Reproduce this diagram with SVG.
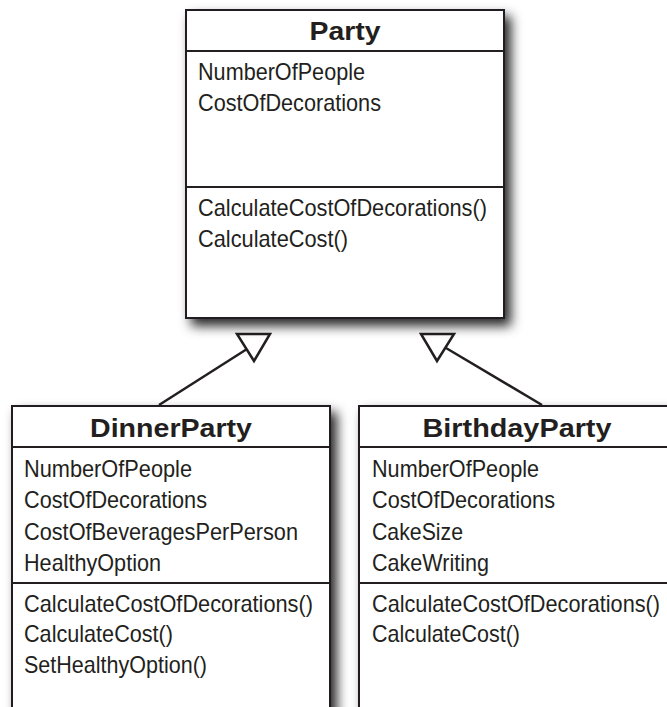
<svg xmlns="http://www.w3.org/2000/svg" width="667" height="707" viewBox="0 0 667 707">
  <defs>
    <filter id="shadow" x="-15%" y="-15%" width="140%" height="140%">
      <feDropShadow dx="6" dy="7" stdDeviation="6" flood-color="#000" flood-opacity="0.85"/>
    </filter>
  </defs>
  <style>
    .box { fill: #fff; stroke: #231f20; stroke-width: 2; }
    .sep { stroke: #231f20; stroke-width: 2; fill: none; }
    .title { font-family: "Liberation Sans", Arial, sans-serif; font-weight: bold; font-size: 26px; fill: #231f20; text-anchor: middle; }
    .item { font-family: "Liberation Sans", Arial, sans-serif; font-size: 24px; fill: #231f20; }
    .conn { stroke: #231f20; stroke-width: 2.5; fill: none; }
    .head { stroke: #231f20; stroke-width: 2.5; fill: #fff; stroke-linejoin: miter; }
  </style>
  <rect width="667" height="707" fill="#fff"/>

  <g id="connectors">
    <line class="conn" x1="159" y1="405" x2="247" y2="349"/>
    <polygon class="head" points="237,334 270,334 254,361"/>
    <line class="conn" x1="542" y1="405" x2="446" y2="348"/>
    <polygon class="head" points="421,334 454,334 437,361"/>
  </g>

  <g id="party">
    <rect class="box" x="186" y="10" width="318" height="308" filter="url(#shadow)"/>
    <line class="sep" x1="186" y1="51" x2="504" y2="51"/>
    <line class="sep" x1="186" y1="187" x2="504" y2="187"/>
    <text class="title" x="345" y="40" textLength="71" lengthAdjust="spacingAndGlyphs">Party</text>
    <text class="item" x="198" y="80" textLength="167" lengthAdjust="spacingAndGlyphs">NumberOfPeople</text>
    <text class="item" x="198" y="111" textLength="183" lengthAdjust="spacingAndGlyphs">CostOfDecorations</text>
    <text class="item" x="198" y="216" textLength="289" lengthAdjust="spacingAndGlyphs">CalculateCostOfDecorations()</text>
    <text class="item" x="198" y="247" textLength="150" lengthAdjust="spacingAndGlyphs">CalculateCost()</text>
  </g>

  <g id="dinnerparty">
    <rect class="box" x="12" y="406" width="318" height="320" filter="url(#shadow)"/>
    <line class="sep" x1="12" y1="447" x2="330" y2="447"/>
    <line class="sep" x1="12" y1="583" x2="330" y2="583"/>
    <text class="title" x="171" y="437" textLength="162" lengthAdjust="spacingAndGlyphs">DinnerParty</text>
    <text class="item" x="24" y="477" textLength="168" lengthAdjust="spacingAndGlyphs">NumberOfPeople</text>
    <text class="item" x="24" y="508" textLength="183" lengthAdjust="spacingAndGlyphs">CostOfDecorations</text>
    <text class="item" x="24" y="540" textLength="274" lengthAdjust="spacingAndGlyphs">CostOfBeveragesPerPerson</text>
    <text class="item" x="24" y="571" textLength="137" lengthAdjust="spacingAndGlyphs">HealthyOption</text>
    <text class="item" x="24" y="612" textLength="289" lengthAdjust="spacingAndGlyphs">CalculateCostOfDecorations()</text>
    <text class="item" x="24" y="642" textLength="149" lengthAdjust="spacingAndGlyphs">CalculateCost()</text>
    <text class="item" x="24" y="673" textLength="183" lengthAdjust="spacingAndGlyphs">SetHealthyOption()</text>
  </g>

  <g id="birthdayparty">
    <rect class="box" x="359" y="406" width="330" height="320" filter="url(#shadow)"/>
    <line class="sep" x1="359" y1="447" x2="689" y2="447"/>
    <line class="sep" x1="359" y1="583" x2="689" y2="583"/>
    <text class="title" x="517" y="437" textLength="189" lengthAdjust="spacingAndGlyphs">BirthdayParty</text>
    <text class="item" x="372" y="477" textLength="167" lengthAdjust="spacingAndGlyphs">NumberOfPeople</text>
    <text class="item" x="372" y="508" textLength="183" lengthAdjust="spacingAndGlyphs">CostOfDecorations</text>
    <text class="item" x="372" y="540" textLength="91" lengthAdjust="spacingAndGlyphs">CakeSize</text>
    <text class="item" x="372" y="571" textLength="117" lengthAdjust="spacingAndGlyphs">CakeWriting</text>
    <text class="item" x="372" y="612" textLength="288" lengthAdjust="spacingAndGlyphs">CalculateCostOfDecorations()</text>
    <text class="item" x="372" y="642" textLength="148" lengthAdjust="spacingAndGlyphs">CalculateCost()</text>
  </g>
</svg>
